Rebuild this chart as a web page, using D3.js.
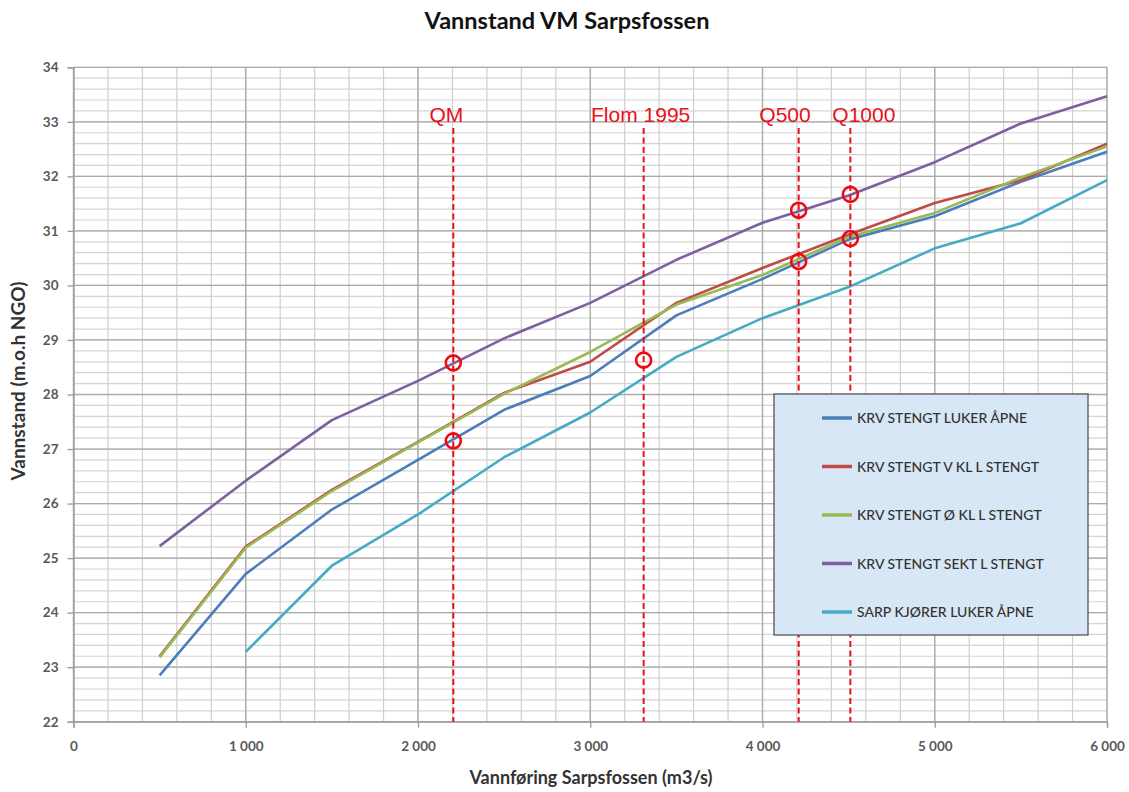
<!DOCTYPE html>
<html>
<head>
<meta charset="utf-8">
<script src="https://cdn.jsdelivr.net/npm/d3@7"></script>
<style>
  body { margin: 0; background: #fff; }
  svg { display: block; }
</style>
</head>
<body>
<svg id="chart"></svg>
<script>
// flow values (m3/s)
var flows = [500, 1000, 1500, 2000, 2500, 3000, 3500, 4000, 4500, 5000, 5500, 6000];

var seriesNames = [
  "KRV STENGT LUKER ÅPNE",
  "KRV STENGT V KL L STENGT",
  "KRV STENGT Ø KL L STENGT",
  "KRV STENGT SEKT L STENGT",
  "SARP KJØRER LUKER ÅPNE"
];
var lukerApne   = [22.85, 24.71, 25.89, 26.80, 27.72, 28.34, 29.45, 30.12, 30.84, 31.27, 31.90, 32.45];
var vKlStengt   = [23.20, 25.21, 26.25, 27.13, 28.03, 28.60, 29.68, 30.32, 30.93, 31.51, 31.93, 32.60];
var oKlStengt   = [23.18, 25.19, 26.23, 27.12, 28.01, 28.78, 29.65, 30.19, 30.89, 31.33, 31.98, 32.55];
var sektStengt  = [25.22, 26.42, 27.53, 28.25, 29.03, 29.68, 30.47, 31.15, 31.65, 32.26, 32.97, 33.47];
var sarpApne    = [null, 23.28, 24.86, 25.80, 26.85, 27.67, 28.69, 29.40, 29.97, 30.68, 31.14, 31.93];
var seriesValues = [lukerApne, vKlStengt, oKlStengt, sektStengt, sarpApne];
var seriesColors = ["#4a7ebb", "#be4b48", "#98b954", "#7d60a0", "#46aac5"];

// marked flows and highlighted water levels
var markNames = ["QM", "Flom 1995", "Q500", "Q1000"];
var markFlows = [2205, 3310, 4210, 4510];
var circleFlows  = [2205, 2205, 3310, 4210, 4210, 4510, 4510];
var circleLevels = [28.58, 27.15, 28.63, 31.38, 30.44, 31.67, 30.86];

var xTicks = [0, 1000, 2000, 3000, 4000, 5000, 6000];
var yTicks = [22, 23, 24, 25, 26, 27, 28, 29, 30, 31, 32, 33, 34];

var width = 1129, height = 792;
var plotL = 73.5, plotR = 1107, plotT = 67.3, plotB = 721.7;

var svg = d3.select('#chart')
    .attr('width', width)
    .attr('height', height)
    .style('font-family', 'Lato, "Open Sans", sans-serif');

var x = d3.scaleLinear().domain([0, 6000]).range([plotL, plotR]);
var y = d3.scaleLinear().domain([22, 34]).range([plotB, plotT]);

// grid
var grid = svg.append('g');
grid.selectAll('.hminor')
  .data(d3.range(22, 34.001, 0.2))
  .enter().append('line')
    .attr('x1', plotL).attr('x2', plotR)
    .attr('y1', d => y(d)).attr('y2', d => y(d))
    .attr('stroke', '#d4d4d4').attr('stroke-width', 1.2);
grid.selectAll('.vminor')
  .data(d3.range(0, 6001, 200))
  .enter().append('line')
    .attr('y1', plotT).attr('y2', plotB)
    .attr('x1', d => x(d)).attr('x2', d => x(d))
    .attr('stroke', '#cfcfcf').attr('stroke-width', 1.2);
grid.selectAll('.hmajor')
  .data(yTicks)
  .enter().append('line')
    .attr('x1', plotL).attr('x2', plotR)
    .attr('y1', d => y(d)).attr('y2', d => y(d))
    .attr('stroke', '#aaaaaa').attr('stroke-width', 1.3);
grid.selectAll('.vmajor')
  .data(xTicks)
  .enter().append('line')
    .attr('y1', plotT).attr('y2', plotB)
    .attr('x1', d => x(d)).attr('x2', d => x(d))
    .attr('stroke', '#aaaaaa').attr('stroke-width', 1.3);

// axes
var fmt = d => d3.format(',')(d).replace(/,/g, ' ');
var xAxis = svg.append('g')
    .attr('transform', 'translate(0,' + plotB + ')')
    .call(d3.axisBottom(x).tickValues(xTicks).tickFormat(fmt).tickSize(6).tickPadding(14));
var yAxis = svg.append('g')
    .attr('transform', 'translate(' + plotL + ',0)')
    .call(d3.axisLeft(y).tickValues(yTicks).tickSize(6).tickPadding(9));
[xAxis, yAxis].forEach(function(a){
  a.select('.domain').attr('stroke', '#9a9a9a').attr('stroke-width', 1.3);
  a.selectAll('.tick line').attr('stroke', '#9a9a9a').attr('stroke-width', 1.3);
  a.selectAll('.tick text')
    .attr('fill', '#595959')
    .style('font-size', '13.5px')
    .style('font-weight', 'bold')
    .style('font-family', 'Lato, sans-serif');
});

// series lines
var line = d3.line()
    .defined(d => d[1] != null)
    .x(d => x(d[0]))
    .y(d => y(d[1]));

svg.append('g').selectAll('path')
  .data(seriesValues)
  .enter().append('path')
    .attr('fill', 'none')
    .attr('stroke', (d, i) => seriesColors[i])
    .attr('stroke-width', 2.6)
    .attr('stroke-linejoin', 'round')
    .attr('d', d => line(flows.map((f, i) => [f, d[i]])));

// marker lines
var marks = svg.append('g');
marks.selectAll('line')
  .data(markFlows)
  .enter().append('line')
    .attr('x1', d => x(d)).attr('x2', d => x(d))
    .attr('y1', 128).attr('y2', plotB)
    .attr('stroke', '#e8101a')
    .attr('stroke-width', 2)
    .attr('stroke-dasharray', '6,3.5');

var labelAnchor = ['end', 'middle', 'end', 'start'];
var labelDx = [10, -3, 12, -18];
marks.selectAll('text')
  .data(markNames)
  .enter().append('text')
    .attr('x', (d, i) => x(markFlows[i]) + labelDx[i])
    .attr('y', 122)
    .attr('text-anchor', (d, i) => labelAnchor[i])
    .attr('fill', '#e8101a')
    .style('font-family', '"Liberation Sans", Arial, sans-serif')
    .style('font-size', '21px')
    .text(d => d);

marks.selectAll('circle')
  .data(circleFlows)
  .enter().append('circle')
    .attr('cx', d => x(d))
    .attr('cy', (d, i) => y(circleLevels[i]))
    .attr('r', 7.5)
    .attr('fill', 'none')
    .attr('stroke', '#ee0a12')
    .attr('stroke-width', 2.6);

// legend
var legend = svg.append('g').attr('transform', 'translate(774,394)');
legend.append('rect')
  .attr('width', 314).attr('height', 241)
  .attr('fill', '#d8e7f5')
  .attr('stroke', '#555')
  .attr('stroke-width', 1.3);
var items = legend.selectAll('.item')
  .data(seriesNames)
  .enter().append('g')
    .attr('transform', (d, i) => 'translate(0,' + (24 + i * 48.5) + ')');
items.append('line')
  .attr('x1', 48).attr('x2', 78)
  .attr('stroke', (d, i) => seriesColors[i])
  .attr('stroke-width', 3.5);
items.append('text')
  .attr('x', 83).attr('y', 5)
  .attr('fill', '#333')
  .style('font-size', '14px')
  .style('font-weight', 500)
  .text(d => d);

// titles
svg.append('text')
  .attr('x', 567).attr('y', 29)
  .attr('text-anchor', 'middle')
  .attr('fill', '#111')
  .style('font-size', '23.5px')
  .style('font-weight', 'bold')
  .text('Vannstand VM Sarpsfossen');

svg.append('text')
  .attr('x', 591).attr('y', 784)
  .attr('text-anchor', 'middle')
  .attr('fill', '#333')
  .style('font-size', '18px')
  .style('font-weight', 'bold')
  .text('Vannføring Sarpsfossen (m3/s)');

svg.append('text')
  .attr('transform', 'translate(25,381) rotate(-90)')
  .attr('text-anchor', 'middle')
  .attr('fill', '#333')
  .style('font-size', '19px')
  .style('font-weight', 'bold')
  .text('Vannstand (m.o.h NGO)');
</script>
</body>
</html>
